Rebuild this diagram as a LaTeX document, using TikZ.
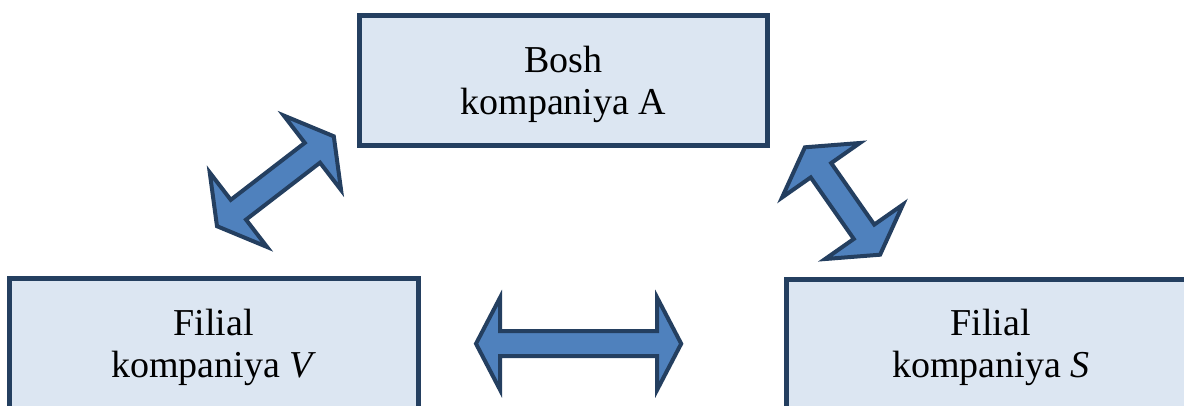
\documentclass[tikz,border=0pt]{standalone}
\usepackage{fontspec}
\setmainfont{Liberation Serif}
\usetikzlibrary{calc}
\definecolor{boxfill}{HTML}{DCE6F2}
\definecolor{navy}{HTML}{243F60}
\definecolor{arrowfill}{HTML}{4F81BD}
\tikzset{
  company/.style={draw=navy, fill=boxfill, line width=5pt, rectangle,
    minimum width=408.3pt, minimum height=130pt, inner sep=0pt},
  labeltext/.style={anchor=base, inner sep=0pt, font=\fontsize{38}{42}\selectfont},
  blockarrow/.style={draw=navy, fill=arrowfill, line width=4pt, line join=miter},
}
% #1, #2: tip coordinates; #3 head length; #4 head half width; #5 shaft half width
\newcommand\twowayarrow[5]{%
  \coordinate (#1h) at ($(#1)!#3!(#2)$);
  \coordinate (#2h) at ($(#2)!#3!(#1)$);
  \draw[blockarrow] (#1) -- ($(#1h)!#4!90:(#2)$) -- ($(#1h)!#5!90:(#2)$)
    -- ($(#2h)!#5!270:(#1)$) -- ($(#2h)!#4!270:(#1)$) -- (#2)
    -- ($(#2h)!#4!90:(#1)$) -- ($(#2h)!#5!90:(#1)$)
    -- ($(#1h)!#5!270:(#2)$) -- ($(#1h)!#4!270:(#2)$) -- cycle;
}
\begin{document}
\begin{tikzpicture}[x=1pt,y=-1pt]
  \useasboundingbox (0,0) rectangle (1184,405);
  \clip (0,0) rectangle (1184,405);
  % boxes
  \node[company] (A) at (563.35,80.8) {};
  \node[company] (V) at (213.85,343.8) {};
  \node[company] (S) at (990.85,344.2) {};
  % texts
  \node[labeltext] (tA) at (563.35,72.7) {\begin{tabular}[t]{@{}c@{}}Bosh\\kompaniya A\end{tabular}};
  \node[labeltext] (tV) at (213.85,335) {\begin{tabular}[t]{@{}c@{}}Filial\\kompaniya \textit{V}\end{tabular}};
  \node[labeltext] (tS) at (990.85,335.5) {\begin{tabular}[t]{@{}c@{}}Filial\\kompaniya \textit{S}\end{tabular}};
  % arrow tips
  \coordinate (vaV) at (217,226.2);
  \coordinate (vaA) at (333.8,136.3);
  \coordinate (saA) at (804.9,147.3);
  \coordinate (saS) at (880.1,254.7);
  \coordinate (vsV) at (476,343.7);
  \coordinate (vsS) at (681.2,343.7);
  % double arrows
  \twowayarrow{vaV}{vaA}{27pt}{47pt}{12.5pt}
  \twowayarrow{saA}{saS}{28pt}{47.5pt}{12.5pt}
  \twowayarrow{vsV}{vsS}{24pt}{46pt}{12.5pt}
\end{tikzpicture}
\end{document}
